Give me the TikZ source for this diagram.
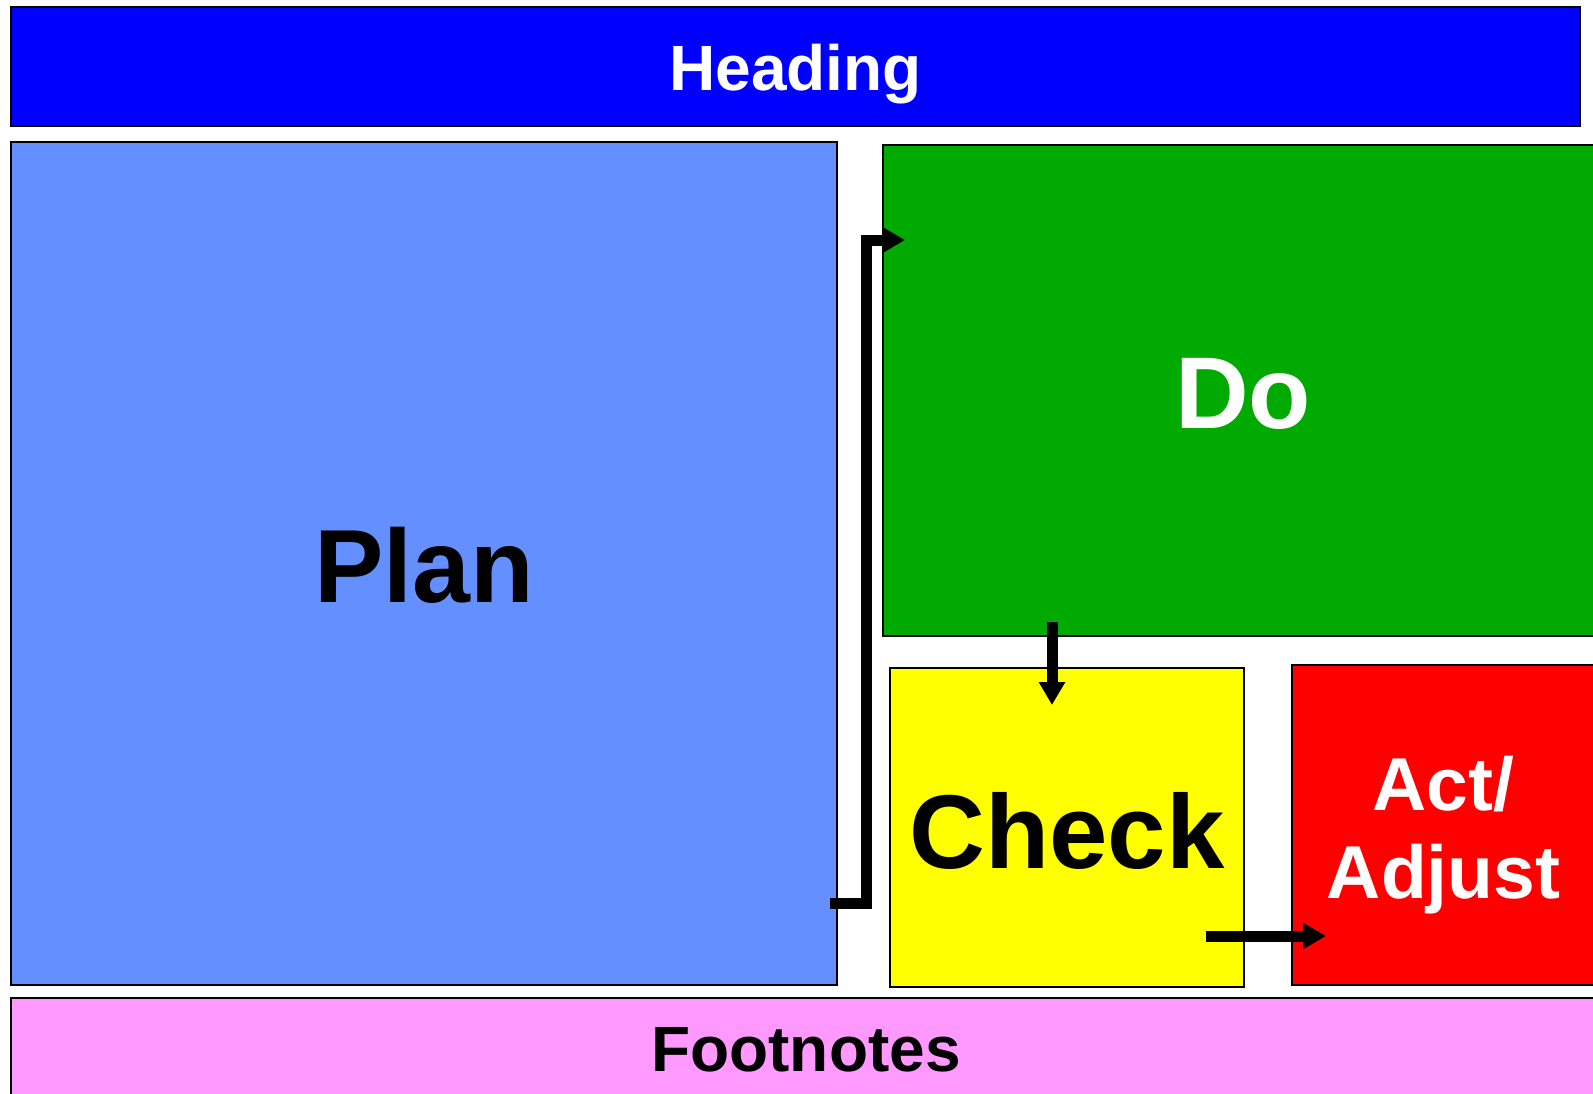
\documentclass[tikz,border=0pt]{standalone}
\usepackage{fontspec}
\setmainfont{Liberation Sans}
\usetikzlibrary{arrows.meta}
\definecolor{headblue}{RGB}{0,0,255}
\definecolor{planblue}{RGB}{99,143,255}
\definecolor{dogreen}{RGB}{0,170,0}
\definecolor{checkyellow}{RGB}{255,255,0}
\definecolor{actred}{RGB}{255,0,0}
\definecolor{footpink}{RGB}{255,153,255}
\tikzset{
  panel/.style={draw=black, line width=2pt, rectangle, inner sep=0pt, outer sep=0pt, align=center, text depth=0pt},
  conn/.style={draw=black, line width=11pt, line join=miter, -{Triangle[length=23pt,width=25pt]}},
  txtM/.style={font=\fontsize{64}{70}\selectfont\bfseries},
  txtL/.style={font=\fontsize{104}{110}\selectfont\bfseries},
  txtA/.style={font=\fontsize{75}{88}\selectfont\bfseries},
}
\begin{document}
\begin{tikzpicture}[x=1pt,y=-1pt]
\useasboundingbox (0,0) rectangle (1593,1093);
\clip (0,0) rectangle (1593,1093);
\node[panel, fill=headblue, text=white, txtM, text height=47.8pt, minimum width=1569pt, minimum height=119pt] (head) at (795.5,66.5) {Heading};
\node[panel, fill=planblue, text=black, txtL, text height=77.5pt, minimum width=826pt, minimum height=843pt] (plan) at (424,563.5) {Plan};
\node[panel, fill=dogreen, text=white, txtL, font=\fontsize{102}{110}\selectfont\bfseries, text height=76pt, minimum width=720pt, minimum height=491pt] (do) at (1243,390.5) {Do};
\node[panel, fill=checkyellow, text=black, txtL, font=\fontsize{105}{110}\selectfont\bfseries, text height=81pt, minimum width=354pt, minimum height=319pt] (check) at (1067,827.5) {Check};
\node[panel, fill=actred, minimum width=306pt, minimum height=320pt] (act) at (1445,825) {};
\node[txtA, text=white, inner sep=0pt, anchor=base] (actlbl) at (1443.5,810) {\begin{tabular}[t]{@{}c@{}}Act/\\Adjust\end{tabular}};
\node[panel, fill=footpink, text=black, txtM, text height=45.8pt, minimum width=1590pt, minimum height=102pt] (foot) at (806,1049) {Footnotes};
% connector endpoints
\coordinate (pA) at (830,903);
\coordinate (dA) at (905,240);
\coordinate (dB) at (1052,622);
\coordinate (cB) at (1052,705);
\coordinate (cC) at (1206,936);
\coordinate (aC) at (1326,936);
\draw[conn] (pA) -- ++(36,0) |- (dA);
\draw[conn] (dB) -- (cB);
\draw[conn] (cC) -- (aC);
\end{tikzpicture}
\end{document}
